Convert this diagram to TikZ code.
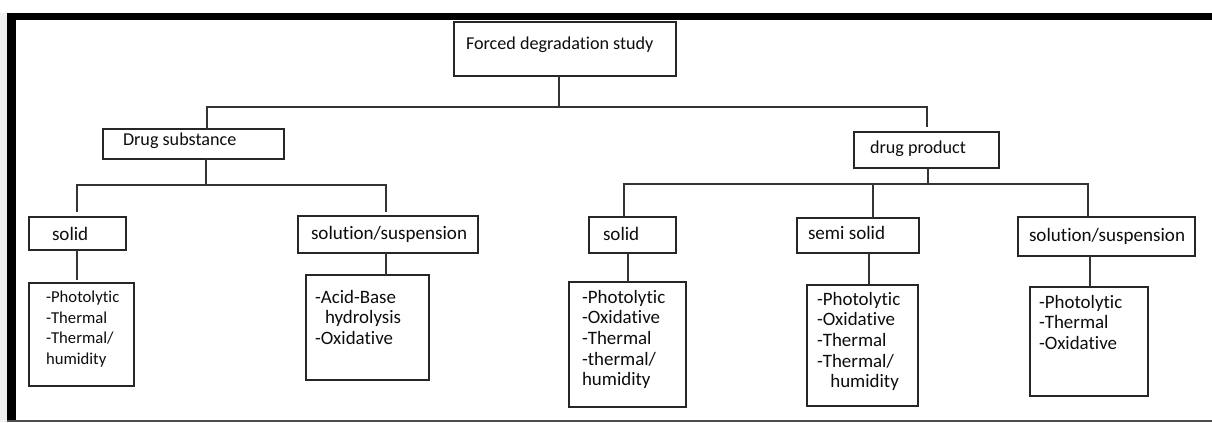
\documentclass[tikz,border=0pt]{standalone}
\usepackage{fontspec}
\setmainfont[Ligatures=NoCommon,RawFeature=-liga]{Carlito}
\newcommand\mkbox[5]{%
  \pgfmathsetmacro\bxCX{(#2+#4)/2}%
  \pgfmathsetmacro\bxCY{(#3+#5)/2}%
  \pgfmathsetmacro\bxW{(#4-#2)*0.75}%
  \pgfmathsetmacro\bxH{(#5-#3)*0.75}%
  \node[boxst, minimum width=\bxW pt, minimum height=\bxH pt] (#1) at (\bxCX,\bxCY) {};}
\begin{document}
\begin{tikzpicture}[x=0.75pt,y=-0.75pt,
  boxst/.style={draw=black!85, line width=1.2pt, inner sep=0pt, outer sep=0pt, fill=white},
  lnk/.style={draw=black!80, line width=1.1pt},
  txt/.style={inner sep=0pt, outer sep=0pt, text=black!95, anchor=west},
  hfont/.style={font=\fontsize{13.6}{16}\selectfont},
  sfont/.style={font=\fontsize{14.3}{16}\selectfont},
  itm/.style={inner sep=0pt, outer sep=0pt, align=left, anchor=north west, text=black!95,
    font=\fontsize{14.2}{15.5}\selectfont},
  itmsmall/.style={itm, font=\fontsize{12.5}{15.5}\selectfont}]
\useasboundingbox (0,0) rectangle (1212,422);
\fill[white] (0,0) rectangle (1212,422);
\fill[black!6] (0,13) rectangle (7,422);
\fill[black] (7,12.7) rectangle (1212,20);
\fill[black] (7,12.7) rectangle (16,420);
\draw[black!70, line width=1.5pt] (7,420.5) -- (1212,420.5);

% boxes
\mkbox{fds}{454}{22}{676}{76}
\mkbox{ds}{103}{129}{284}{159}
\mkbox{dp}{854}{132}{999}{168}
\mkbox{s1}{29}{217}{126}{250}
\mkbox{s2}{298}{216}{478}{253}
\mkbox{s3}{589}{217}{676}{253}
\mkbox{s4}{797}{218}{919}{253}
\mkbox{s5}{1018}{217}{1195}{256}
\mkbox{b1}{29}{283}{134}{386}
\mkbox{b2}{306}{275}{429}{380}
\mkbox{b3}{569}{282}{686}{407}
\mkbox{b4}{807}{285}{918}{406}
\mkbox{b5}{1030}{287}{1148}{396}

% texts
\node[txt, hfont] (tfds) at (466,45) {Forced degradation study};
\node[txt, hfont] (tds) at (123,141) {Drug substance};
\node[txt, hfont] (tdp) at (870,149) {drug product};
\node[txt, sfont] (ts1) at (52,234) {solid};
\node[txt, sfont] (ts2) at (311,234) {solution/suspension};
\node[txt, sfont] (ts3) at (603,234) {solid};
\node[txt, sfont] (ts4) at (808,233) {semi solid};
\node[txt, sfont] (ts5) at (1029,236) {solution/suspension};

\node[itmsmall] (tb1) at (46,291) {-Photolytic\\-Thermal\\-Thermal/\\humidity};
\node[itm] (tb2) at (315,290) {-Acid-Base\\\hspace*{7.5pt}hydrolysis\\-Oxidative};
\node[itm] (tb3) at (582,290) {-Photolytic\\-Oxidative\\-Thermal\\-thermal/\\humidity};
\node[itm] (tb4) at (817,292) {-Photolytic\\-Oxidative\\-Thermal\\-Thermal/\\\hspace*{10pt}humidity};
\node[itm] (tb5) at (1039,295) {-Photolytic\\-Thermal\\-Oxidative};

% connector junctions
\coordinate (j0) at (559,107);
\coordinate (hL) at (207,107);
\coordinate (hR) at (927,107);
\coordinate (ja) at (206,185);
\coordinate (aL) at (77,185);
\coordinate (aR) at (386,185);
\coordinate (jb) at (928,184);
\coordinate (bL) at (624,184);
\coordinate (bM) at (873,184);
\coordinate (bR) at (1088,184);
\coordinate (c3) at (628,0);
\coordinate (c4) at (869,0);
\coordinate (c5) at (1090,0);

% connectors
\draw[lnk] (fds.south -| j0) -- (j0);
\draw[lnk, shorten >=3.75pt] (ds.north -| hL) -- (hL) -- (hR) -- (dp.north -| hR);
\draw[lnk] (ds.south -| ja) -- (ja);
\draw[lnk, shorten <=3.75pt, shorten >=3pt] (s1.north -| aL) -- (aL) -- (aR) -- (s2.north -| aR);
\draw[lnk] (dp.south -| jb) -- (jb);
\draw[lnk] (s3.north -| bL) -- (bL) -- (bR) -- (s5.north -| bR);
\draw[lnk] (bM) -- (s4.north -| bM);
\draw[lnk, shorten >=2pt] (s1.south -| aL) -- (b1.north -| aL);
\draw[lnk] (s2.south -| aR) -- (b2.north -| aR);
\draw[lnk] (s3.south -| c3) -- (b3.north -| c3);
\draw[lnk] (s4.south -| c4) -- (b4.north -| c4);
\draw[lnk] (s5.south -| c5) -- (b5.north -| c5);
\end{tikzpicture}
\end{document}
